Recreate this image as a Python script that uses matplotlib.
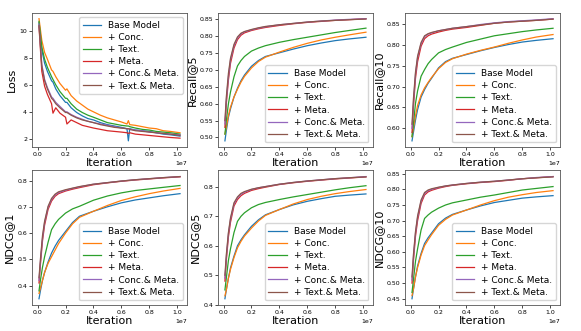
import matplotlib.pyplot as plt
import numpy as np

plt.rcParams['font.size'] = 4.5

names = ['Base Model', '+ Conc.', '+ Text.', '+ Meta.', '+ Conc.& Meta.', '+ Text.& Meta.']
colors = ['C0', 'C1', 'C2', 'C3', 'C4', 'C5']

# loss curves (iteration in 1e6)
loss_x = [0.1, 0.3, 0.5, 0.7, 1.0, 1.1, 1.3, 1.6, 2.0, 2.1, 2.4, 2.8, 3.2, 3.6, 4.0, 4.5,
          5.0, 5.5, 6.0, 6.4, 6.5, 6.6, 7.0, 7.5, 8.0, 8.5, 9.0, 9.5, 10.2]
loss_base = [10.6, 8.6, 7.6, 7.0, 6.3, 6.2, 5.7, 5.2, 4.7, 4.7, 4.3, 3.95, 3.7, 3.5, 3.4, 3.2,
             3.05, 2.95, 2.85, 2.75, 1.85, 2.75, 2.65, 2.6, 2.55, 2.45, 2.35, 2.3, 2.2]
loss_conc = [10.9, 9.3, 8.4, 7.9, 7.1, 7.0, 6.6, 6.1, 5.6, 5.7, 5.2, 4.8, 4.5, 4.2, 4.0, 3.75,
             3.55, 3.4, 3.25, 3.1, 3.35, 3.05, 3.0, 2.9, 2.8, 2.75, 2.6, 2.55, 2.45]
loss_text = [10.7, 8.8, 7.9, 7.3, 6.6, 6.4, 6.0, 5.5, 5.0, 5.0, 4.6, 4.2, 3.95, 3.75, 3.6, 3.4,
             3.2, 3.1, 3.0, 2.95, 2.95, 2.9, 2.8, 2.7, 2.65, 2.55, 2.5, 2.45, 2.35]
loss_meta = [10.3, 7.0, 5.9, 5.3, 4.6, 3.9, 4.3, 3.9, 3.6, 3.1, 3.4, 3.2, 3.0, 2.9, 2.8, 2.7,
             2.6, 2.55, 2.5, 2.45, 2.4, 2.45, 2.35, 2.3, 2.25, 2.2, 2.15, 2.1, 2.05]
loss_conc_meta = [10.5, 7.5, 6.4, 5.8, 5.1, 5.0, 4.7, 4.4, 4.0, 4.0, 3.8, 3.6, 3.45, 3.3, 3.2, 3.1,
                  3.0, 2.9, 2.8, 2.75, 2.75, 2.7, 2.65, 2.6, 2.5, 2.45, 2.4, 2.35, 2.3]
loss_text_meta = [10.4, 7.4, 6.3, 5.7, 5.0, 4.9, 4.6, 4.3, 3.95, 3.95, 3.75, 3.55, 3.4, 3.3, 3.2, 3.05,
                  2.95, 2.85, 2.8, 2.75, 2.75, 2.7, 2.6, 2.55, 2.5, 2.45, 2.4, 2.35, 2.25]

# evaluation curves (iteration in 1e6)
eval_x = [0.1, 0.2, 0.35, 0.5, 0.75, 1.0, 1.25, 1.5, 2.0, 2.5, 3.0, 4.0, 5.0, 6.0, 7.0, 8.0, 9.0, 10.2]

r5_base = [0.49, 0.52, 0.56, 0.585, 0.62, 0.646, 0.668, 0.685, 0.711, 0.728, 0.740, 0.751, 0.762, 0.772, 0.780, 0.787, 0.792, 0.797]
r5_conc = [0.51, 0.53, 0.565, 0.59, 0.62, 0.643, 0.664, 0.681, 0.706, 0.725, 0.738, 0.753, 0.767, 0.779, 0.789, 0.797, 0.804, 0.812]
r5_text = [0.51, 0.55, 0.60, 0.635, 0.68, 0.712, 0.728, 0.740, 0.756, 0.765, 0.772, 0.782, 0.790, 0.797, 0.804, 0.811, 0.817, 0.824]
r5_meta = [0.53, 0.60, 0.67, 0.72, 0.765, 0.790, 0.803, 0.810, 0.817, 0.822, 0.826, 0.832, 0.837, 0.841, 0.844, 0.847, 0.849, 0.852]
r5_conc_meta = [0.54, 0.61, 0.68, 0.73, 0.772, 0.795, 0.807, 0.813, 0.819, 0.824, 0.828, 0.834, 0.838, 0.842, 0.845, 0.848, 0.850, 0.852]
r5_text_meta = [0.55, 0.62, 0.69, 0.735, 0.776, 0.798, 0.809, 0.814, 0.820, 0.825, 0.829, 0.834, 0.838, 0.842, 0.845, 0.847, 0.849, 0.851]

r10_base = [0.57, 0.59, 0.62, 0.645, 0.675, 0.693, 0.708, 0.720, 0.745, 0.760, 0.768, 0.777, 0.786, 0.794, 0.801, 0.807, 0.811, 0.815]
r10_conc = [0.58, 0.60, 0.63, 0.655, 0.68, 0.697, 0.710, 0.722, 0.743, 0.758, 0.767, 0.778, 0.787, 0.795, 0.804, 0.812, 0.819, 0.825]
r10_text = [0.58, 0.61, 0.66, 0.69, 0.725, 0.741, 0.755, 0.765, 0.781, 0.789, 0.795, 0.806, 0.814, 0.822, 0.827, 0.832, 0.836, 0.840]
r10_meta = [0.59, 0.65, 0.72, 0.76, 0.797, 0.815, 0.822, 0.826, 0.831, 0.835, 0.838, 0.842, 0.847, 0.852, 0.855, 0.857, 0.859, 0.862]
r10_conc_meta = [0.60, 0.66, 0.73, 0.77, 0.803, 0.820, 0.826, 0.829, 0.834, 0.837, 0.840, 0.844, 0.849, 0.853, 0.856, 0.858, 0.860, 0.863]
r10_text_meta = [0.61, 0.67, 0.735, 0.773, 0.806, 0.822, 0.827, 0.830, 0.834, 0.837, 0.840, 0.844, 0.848, 0.852, 0.855, 0.857, 0.859, 0.862]

n1_base = [0.35, 0.38, 0.42, 0.45, 0.49, 0.524, 0.550, 0.572, 0.606, 0.640, 0.664, 0.683, 0.700, 0.715, 0.726, 0.734, 0.742, 0.750]
n1_conc = [0.37, 0.39, 0.42, 0.45, 0.485, 0.51, 0.535, 0.56, 0.600, 0.635, 0.660, 0.683, 0.705, 0.724, 0.738, 0.750, 0.760, 0.770]
n1_text = [0.38, 0.42, 0.47, 0.51, 0.565, 0.613, 0.635, 0.652, 0.676, 0.692, 0.702, 0.725, 0.741, 0.753, 0.762, 0.768, 0.774, 0.781]
n1_meta = [0.41, 0.48, 0.57, 0.63, 0.69, 0.722, 0.740, 0.750, 0.760, 0.767, 0.773, 0.784, 0.791, 0.797, 0.802, 0.806, 0.810, 0.814]
n1_conc_meta = [0.42, 0.49, 0.58, 0.64, 0.698, 0.728, 0.745, 0.754, 0.763, 0.770, 0.776, 0.786, 0.792, 0.798, 0.803, 0.807, 0.811, 0.815]
n1_text_meta = [0.43, 0.50, 0.59, 0.645, 0.702, 0.732, 0.748, 0.757, 0.765, 0.771, 0.777, 0.786, 0.792, 0.798, 0.803, 0.807, 0.811, 0.815]

n5_base = [0.42, 0.45, 0.49, 0.525, 0.565, 0.600, 0.620, 0.637, 0.666, 0.688, 0.705, 0.723, 0.739, 0.751, 0.760, 0.768, 0.772, 0.776]
n5_conc = [0.43, 0.45, 0.49, 0.52, 0.56, 0.593, 0.615, 0.633, 0.660, 0.684, 0.703, 0.723, 0.742, 0.757, 0.768, 0.777, 0.784, 0.791]
n5_text = [0.45, 0.49, 0.55, 0.59, 0.645, 0.683, 0.700, 0.712, 0.729, 0.740, 0.747, 0.757, 0.766, 0.774, 0.782, 0.790, 0.797, 0.804]
n5_meta = [0.48, 0.55, 0.63, 0.68, 0.735, 0.757, 0.770, 0.778, 0.788, 0.794, 0.799, 0.808, 0.814, 0.819, 0.823, 0.827, 0.830, 0.834]
n5_conc_meta = [0.49, 0.56, 0.64, 0.69, 0.742, 0.763, 0.775, 0.782, 0.791, 0.797, 0.801, 0.809, 0.815, 0.820, 0.824, 0.828, 0.831, 0.835]
n5_text_meta = [0.50, 0.57, 0.645, 0.695, 0.746, 0.766, 0.778, 0.784, 0.792, 0.797, 0.801, 0.809, 0.815, 0.820, 0.824, 0.828, 0.831, 0.834]

n10_base = [0.45, 0.48, 0.52, 0.555, 0.595, 0.627, 0.645, 0.660, 0.690, 0.708, 0.720, 0.734, 0.747, 0.758, 0.765, 0.772, 0.776, 0.780]
n10_conc = [0.46, 0.48, 0.52, 0.55, 0.59, 0.620, 0.638, 0.655, 0.685, 0.704, 0.718, 0.734, 0.750, 0.764, 0.775, 0.783, 0.790, 0.796]
n10_text = [0.47, 0.51, 0.57, 0.61, 0.67, 0.707, 0.718, 0.727, 0.740, 0.750, 0.757, 0.766, 0.775, 0.782, 0.790, 0.798, 0.803, 0.809]
n10_meta = [0.50, 0.57, 0.65, 0.70, 0.755, 0.782, 0.792, 0.797, 0.804, 0.809, 0.813, 0.818, 0.822, 0.825, 0.829, 0.834, 0.837, 0.841]
n10_conc_meta = [0.51, 0.58, 0.66, 0.71, 0.762, 0.787, 0.796, 0.800, 0.806, 0.811, 0.814, 0.819, 0.823, 0.826, 0.830, 0.834, 0.838, 0.841]
n10_text_meta = [0.52, 0.59, 0.665, 0.715, 0.766, 0.790, 0.798, 0.802, 0.807, 0.811, 0.814, 0.819, 0.823, 0.826, 0.830, 0.834, 0.837, 0.840]

panels = [
    ('Loss', loss_x, [loss_base, loss_conc, loss_text, loss_meta, loss_conc_meta, loss_text_meta], 'upper right'),
    ('Recall@5', eval_x, [r5_base, r5_conc, r5_text, r5_meta, r5_conc_meta, r5_text_meta], 'lower right'),
    ('Recall@10', eval_x, [r10_base, r10_conc, r10_text, r10_meta, r10_conc_meta, r10_text_meta], 'lower right'),
    ('NDCG@1', eval_x, [n1_base, n1_conc, n1_text, n1_meta, n1_conc_meta, n1_text_meta], 'lower right'),
    ('NDCG@5', eval_x, [n5_base, n5_conc, n5_text, n5_meta, n5_conc_meta, n5_text_meta], 'lower right'),
    ('NDCG@10', eval_x, [n10_base, n10_conc, n10_text, n10_meta, n10_conc_meta, n10_text_meta], 'lower right'),
]

lefts = [0.055, 0.375, 0.697]
bottoms = [0.556, 0.079]

fig = plt.figure(figsize=(5.81, 3.31), dpi=100)
for i, (ylabel, x, series, loc) in enumerate(panels):
    ax = fig.add_axes([lefts[i % 3], bottoms[i // 3], 0.267, 0.406])
    xs = np.array(x) * 1e6
    for j, ys in enumerate(series):
        ax.plot(xs, ys, color=colors[j], lw=0.9, label=names[j])
    ax.set_ylabel(ylabel, fontsize=8, labelpad=2)
    ax.set_xlabel('Iteration', fontsize=8, labelpad=1)
    ax.tick_params(length=2, width=0.5, pad=1.5, labelsize=4.5)
    ax.xaxis.get_offset_text().set_fontsize(4.5)
    for s in ax.spines.values():
        s.set_linewidth(0.6)
        s.set_color('#555555')
    ax.legend(loc=loc, fontsize=6.5, handlelength=2.0, borderpad=0.4, labelspacing=0.35,
              handletextpad=0.8, fancybox=True)

plt.savefig('out.png', dpi=100)
